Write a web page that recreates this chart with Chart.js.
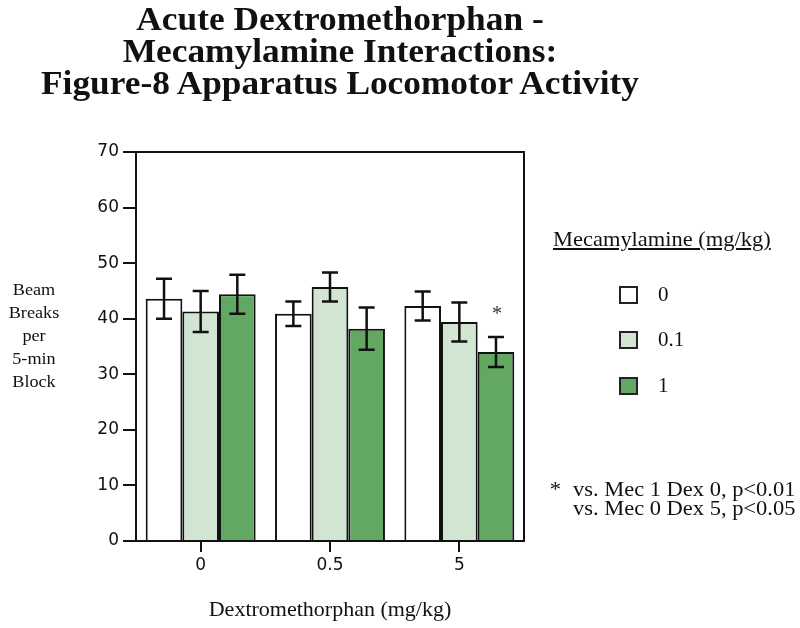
<!DOCTYPE html>
<html>
<head>
<meta charset="utf-8">
<title>Acute Dextromethorphan - Mecamylamine Interactions</title>
<script src="https://cdn.jsdelivr.net/npm/chart.js@4.4.0/dist/chart.umd.min.js"></script>
<style>
    body { margin: 0; background: #fff; }
    #wrap { position: relative; width: 800px; height: 628px; font-family: "Liberation Serif", "Times New Roman", serif; color: #111; }
    #chartBox { position: absolute; left: 0; top: 0; width: 800px; height: 628px; }
    .txt { position: absolute; white-space: nowrap; transform: scaleX(1.07); }
    #title { left: 0; width: 680px; top: 3px; text-align: center; font-weight: bold; font-size: 33px; line-height: 32px; transform-origin: 340px 0; }
    #yTitle { left: 0; width: 68px; top: 278px; text-align: center; font-size: 17px; line-height: 23px; transform-origin: 34px 0; }
    #legTitle { left: 553px; top: 227px; font-size: 21px; text-decoration: underline; transform-origin: 0 0; }
    .sw { position: absolute; left: 619px; width: 15px; height: 14px; border: 2px solid #222; }
    .legLbl { position: absolute; left: 658px; font-size: 21px; line-height: 24px; }
    #foot { left: 573px; top: 480px; font-size: 21px; line-height: 19px; transform-origin: 0 0; }
    #footStar { left: 550px; top: 480px; font-size: 21px; line-height: 19px; }
</style>
</head>
<body>
<div id="wrap">
    <div id="chartBox"><canvas id="chart"></canvas></div>
    <div class="txt" id="title">Acute Dextromethorphan -<br>Mecamylamine Interactions:<br>Figure-8 Apparatus Locomotor Activity</div>
    <div class="txt" id="yTitle">Beam<br>Breaks<br>per<br>5-min<br>Block</div>
    <div class="txt" id="legTitle">Mecamylamine (mg/kg)</div>
    <div id="legend"></div>
    <div class="txt" id="footStar">*</div>
    <div class="txt" id="foot">vs. Mec 1 Dex 0, p&lt;0.01<br>vs. Mec 0 Dex 5, p&lt;0.05</div>
</div>

<script>
// --- data ---
const dexDoses = ['0', '0.5', '5'];
const mecLevels = ['0', '0.1', '1'];
const mec0 = [43.6, 40.9, 42.3];
const mec01 = [41.3, 45.7, 39.4];
const mec1 = [44.4, 38.2, 34.0];
const sem0 = [3.6, 2.2, 2.6];
const sem01 = [3.7, 2.6, 3.5];
const sem1 = [3.5, 3.8, 2.7];
const marks1 = ['', '', '*'];   // significance mark above Mec 1 bars

const barColors = ['#ffffff', '#d2e5d2', '#62a862'];

const series = [
    { values: mec0, errs: sem0, marks: ['', '', ''] },
    { values: mec01, errs: sem01, marks: ['', '', ''] },
    { values: mec1, errs: sem1, marks: marks1 }
];

// legend (html, built from the same arrays)
const legendEl = document.getElementById('legend');
const swatchTops = [286, 331, 377];
mecLevels.forEach((lvl, i) => {
    const sw = document.createElement('div');
    sw.className = 'sw';
    sw.style.top = swatchTops[i] + 'px';
    sw.style.background = barColors[i];
    legendEl.appendChild(sw);
    const lb = document.createElement('div');
    lb.className = 'legLbl';
    lb.style.top = (swatchTops[i] - 4) + 'px';
    lb.textContent = lvl;
    legendEl.appendChild(lb);
});

// error bars, stars and the closed frame round the plot
const errorBarPlugin = {
    id: 'errorBars',
    afterDatasetsDraw(chart) {
        const ctx = chart.ctx;
        const y = chart.scales.y;
        const area = chart.chartArea;
        ctx.save();
        ctx.strokeStyle = '#111';
        ctx.lineWidth = 2;
        ctx.strokeRect(area.left, area.top, area.right - area.left, area.bottom - area.top);

        ctx.lineWidth = 2.5;
        series.forEach((s, i) => {
            const meta = chart.getDatasetMeta(i);
            meta.data.forEach((bar, j) => {
                const top = y.getPixelForValue(s.values[j] + s.errs[j]);
                const bot = y.getPixelForValue(s.values[j] - s.errs[j]);
                ctx.beginPath();
                ctx.moveTo(bar.x, top);
                ctx.lineTo(bar.x, bot);
                ctx.moveTo(bar.x - 8, top);
                ctx.lineTo(bar.x + 8, top);
                ctx.moveTo(bar.x - 8, bot);
                ctx.lineTo(bar.x + 8, bot);
                ctx.stroke();
                if (s.marks[j]) {
                    ctx.fillStyle = '#333';
                    ctx.font = '20px "Liberation Serif"';
                    ctx.textAlign = 'center';
                    ctx.textBaseline = 'middle';
                    ctx.fillText(s.marks[j], bar.x + 1, top - 22);
                }
            });
        });
        ctx.restore();
    }
};

new Chart(document.getElementById('chart'), {
    type: 'bar',
    data: {
        labels: dexDoses,
        datasets: series.map((s, i) => ({
            label: mecLevels[i],
            data: s.values,
            backgroundColor: barColors[i],
            borderColor: '#111',
            borderWidth: 2,
            categoryPercentage: 0.85,
            barPercentage: 1.0
        }))
    },
    options: {
        responsive: true,
        maintainAspectRatio: false,
        animation: false,
        layout: { padding: { left: 0, top: 152, right: 276, bottom: 0 } },
        plugins: { legend: { display: false }, tooltip: { enabled: false } },
        scales: {
            x: {
                afterFit(scale) { scale.height = 87; },
                grid: { display: true, drawOnChartArea: false, offset: false, tickLength: 11, color: '#111', lineWidth: 2 },
                border: { display: true, color: '#111', width: 2 },
                ticks: { color: '#111', padding: 3, font: { family: '"DejaVu Sans"', size: 17 } },
                title: {
                    display: true,
                    text: 'Dextromethorphan (mg/kg)',
                    color: '#111',
                    font: { family: '"Liberation Serif"', size: 22 },
                    padding: { top: 0, bottom: 5 }
                }
            },
            y: {
                min: 0,
                max: 70,
                afterFit(scale) { scale.width = 136; },
                grid: { display: true, drawOnChartArea: false, tickLength: 13, color: '#111', lineWidth: 2 },
                border: { display: true, color: '#111', width: 2 },
                ticks: { stepSize: 10, color: '#111', padding: 4, font: { family: '"DejaVu Sans"', size: 17 } }
            }
        }
    },
    plugins: [errorBarPlugin]
});
</script>
</body>
</html>
